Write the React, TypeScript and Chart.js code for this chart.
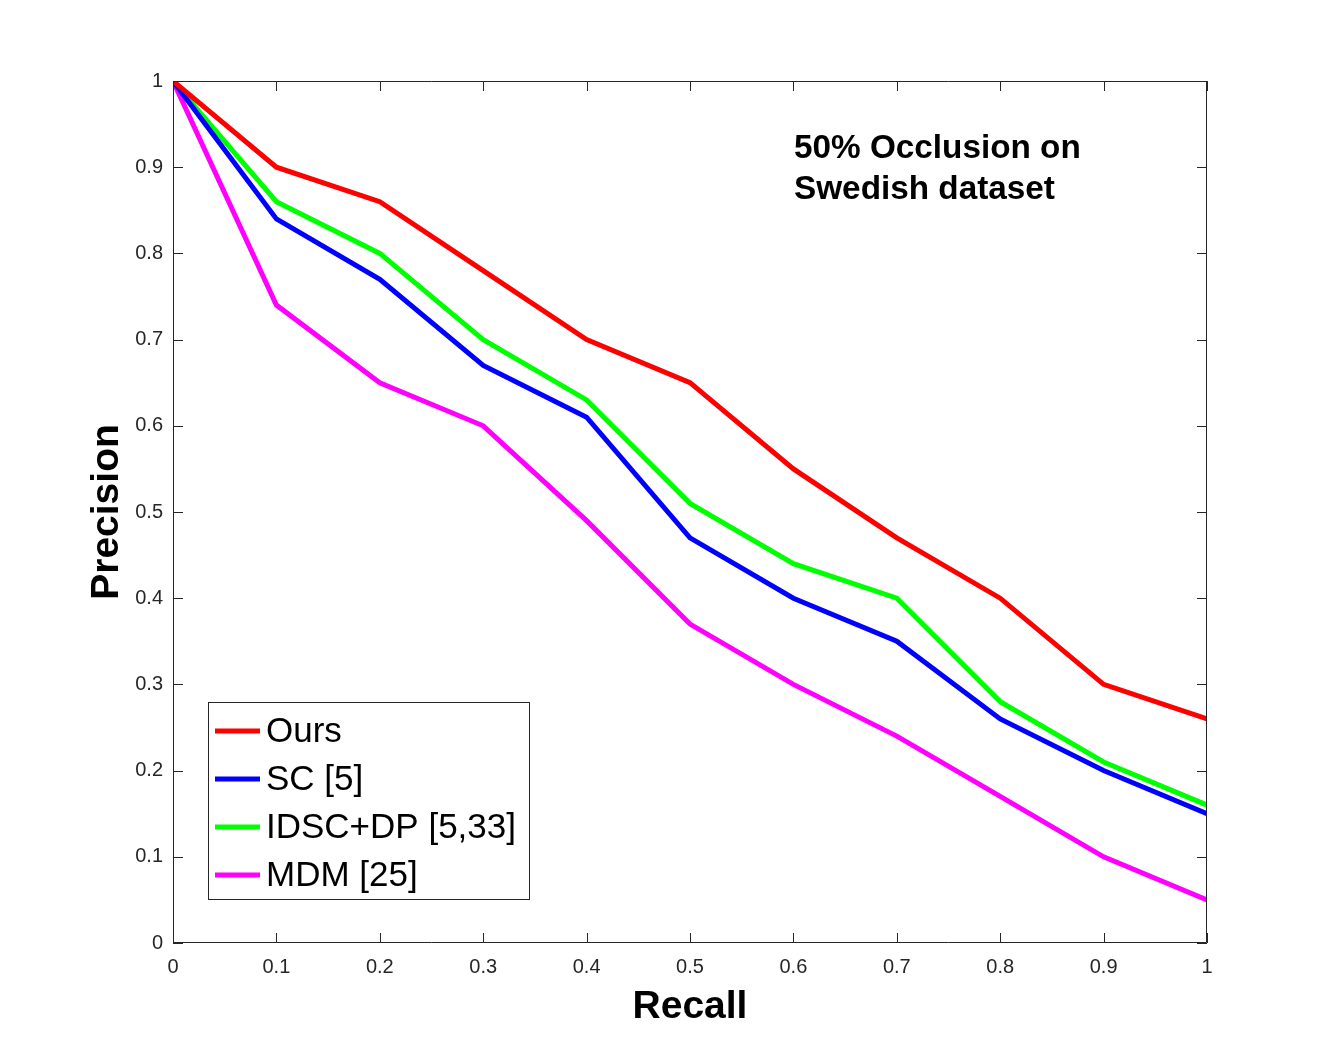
import React, { useEffect, useRef } from "react";
import { Chart, registerables } from "chart.js";

Chart.register(...registerables);

const recall = [0, 0.1, 0.2, 0.3, 0.4, 0.5, 0.6, 0.7, 0.8, 0.9, 1.0];
const ours = [1, 0.9, 0.86, 0.78, 0.7, 0.65, 0.55, 0.47, 0.4, 0.3, 0.26];
const sc = [1, 0.84, 0.77, 0.67, 0.61, 0.47, 0.4, 0.35, 0.26, 0.2, 0.15];
const idsc = [1, 0.86, 0.8, 0.7, 0.63, 0.51, 0.44, 0.4, 0.28, 0.21, 0.16];
const mdm = [1, 0.74, 0.65, 0.6, 0.49, 0.37, 0.3, 0.24, 0.17, 0.1, 0.05];
const seriesLabels = ["Ours", "SC [5]", "IDSC+DP [5,33]", "MDM [25]"];
const seriesColors = ["#ff0000", "#0000ff", "#00ff00", "#ff00ff"];
const tickValues = [0, 0.1, 0.2, 0.3, 0.4, 0.5, 0.6, 0.7, 0.8, 0.9, 1];
const annotationLines = ["50% Occlusion on", "Swedish dataset"];
const xTitle = "Recall";
const yTitle = "Precision";

const FONT = "'Liberation Sans', Arial, Helvetica, sans-serif";
const AXIS_COLOR = "#262626";

const decorPlugin = {
  id: "matlabDecor",
  afterDatasetsDraw(chart: any) {
    const { ctx, chartArea, scales } = chart;
    const { left, right, top, bottom } = chartArea;
    const xs = scales.x;
    const ys = scales.y;
    ctx.save();
    // box
    ctx.strokeStyle = AXIS_COLOR;
    ctx.lineWidth = 1;
    ctx.beginPath();
    ctx.rect(left + 0.5, top + 0.5, right - left - 1, bottom - top - 1);
    ctx.stroke();
    // ticks inside on all sides
    const tl = 10;
    ctx.beginPath();
    tickValues.forEach((v) => {
      const px = Math.round(xs.getPixelForValue(v)) + 0.5;
      ctx.moveTo(px, bottom);
      ctx.lineTo(px, bottom - tl);
      ctx.moveTo(px, top);
      ctx.lineTo(px, top + tl);
      const py = Math.round(ys.getPixelForValue(v)) + 0.5;
      ctx.moveTo(left, py);
      ctx.lineTo(left + tl, py);
      ctx.moveTo(right, py);
      ctx.lineTo(right - tl, py);
    });
    ctx.stroke();

    // axis titles
    ctx.fillStyle = "#000";
    ctx.font = `bold 39px ${FONT}`;
    ctx.textAlign = "center";
    ctx.textBaseline = "middle";
    ctx.fillText(xTitle, (left + right) / 2, 1007);
    ctx.save();
    ctx.translate(107, (top + bottom) / 2);
    ctx.rotate(-Math.PI / 2);
    ctx.fillText(yTitle, 0, 0);
    ctx.restore();

    // annotation
    ctx.font = `bold 33.3px ${FONT}`;
    ctx.textAlign = "left";
    annotationLines.forEach((t, i) => {
      ctx.fillText(t, 794, 149 + i * 41);
    });

    // legend
    const lx = 208, ly = 702, lw = 321, lh = 197;
    ctx.fillStyle = "#fff";
    ctx.fillRect(lx, ly, lw, lh);
    ctx.strokeStyle = AXIS_COLOR;
    ctx.lineWidth = 1;
    ctx.strokeRect(lx + 0.5, ly + 0.5, lw, lh);
    ctx.font = `35px ${FONT}`;
    ctx.textBaseline = "middle";
    chart.data.datasets.forEach((ds: any, i: number) => {
      const cy = 731 + i * 48;
      ctx.strokeStyle = ds.borderColor;
      ctx.lineWidth = 5;
      ctx.beginPath();
      ctx.moveTo(215, cy);
      ctx.lineTo(260, cy);
      ctx.stroke();
      ctx.fillStyle = "#000";
      ctx.fillText(ds.label, 266, cy + 1);
    });
    ctx.restore();
  },
};

export default function App() {
  const ref = useRef<HTMLCanvasElement>(null);
  useEffect(() => {
    if (!ref.current) return;
    const all = [ours, sc, idsc, mdm];
    const chart = new Chart(ref.current, {
      type: "line",
      data: {
        datasets: all.map((vals, i) => ({
          label: seriesLabels[i],
          data: recall.map((r, j) => ({ x: r, y: vals[j] })),
          borderColor: seriesColors[i],
          backgroundColor: seriesColors[i],
          borderWidth: 5,
          pointRadius: 0,
          fill: false,
          tension: 0,
          clip: 0,
        })),
      },
      options: {
        responsive: false,
        animation: false,
        layout: { padding: { left: 0, top: 81, right: 129, bottom: 0 } },
        plugins: { legend: { display: false }, tooltip: { enabled: false } },
        scales: {
          x: {
            type: "linear",
            min: 0,
            max: 1,
            grid: { display: false, drawTicks: false },
            border: { display: false },
            afterFit: (s: any) => { s.height = 118; },
            afterBuildTicks: (s: any) => { s.ticks = tickValues.map((v) => ({ value: v })); },
            ticks: {
              autoSkip: false,
              maxRotation: 0,
              padding: 12,
              color: AXIS_COLOR,
              font: { family: FONT, size: 20 },
              callback: (v: any) => String(Number(Number(v).toFixed(1))),
            },
          },
          y: {
            type: "linear",
            min: 0,
            max: 1,
            grid: { display: false, drawTicks: false },
            border: { display: false },
            afterFit: (s: any) => { s.width = 173; },
            afterBuildTicks: (s: any) => { s.ticks = tickValues.map((v) => ({ value: v })); },
            ticks: {
              autoSkip: false,
              padding: 10,
              color: AXIS_COLOR,
              font: { family: FONT, size: 20 },
              callback: (v: any) => String(Number(Number(v).toFixed(1))),
            },
          },
        },
      },
      plugins: [decorPlugin],
    });
    return () => chart.destroy();
  }, []);
  return (
    <div style={{ position: "absolute", left: 0, top: 0, width: 1336, height: 1061, background: "#fff" }}>
      <canvas ref={ref} width={1336} height={1061} style={{ width: 1336, height: 1061 }} />
    </div>
  );
}
